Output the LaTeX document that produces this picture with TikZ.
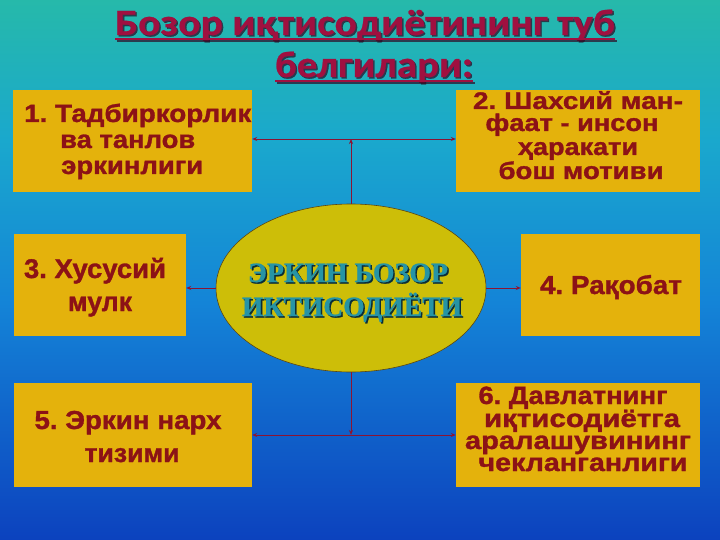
\documentclass[tikz,border=0pt]{standalone}
\usepackage{fontspec}
\usepackage{graphicx}
\setmainfont{Liberation Sans}
\newfontfamily\boxfont{Liberation Sans Bold}[FakeBold=1.2]
\newfontfamily\titlefont{Carlito Bold}[FakeBold=0.6]
\newfontfamily\ellfont{Liberation Serif Bold}[FakeBold=0.8]
\usetikzlibrary{arrows.meta,shapes.geometric}
\definecolor{ctop}{RGB}{38,185,170}
\definecolor{cmida}{RGB}{26,168,205}
\definecolor{cmidb}{RGB}{20,132,215}
\definecolor{cbot}{RGB}{12,66,190}
\definecolor{boxgold}{RGB}{228,178,12}
\definecolor{ellgold}{RGB}{205,190,8}
\definecolor{ellline}{RGB}{90,70,20}
\definecolor{boxred}{RGB}{140,18,22}
\definecolor{titlered}{RGB}{160,16,64}
\definecolor{titleshadow}{RGB}{45,10,35}
\definecolor{ellteal}{RGB}{38,148,165}
\definecolor{ellshadow}{RGB}{10,45,55}
\definecolor{linered}{RGB}{140,20,50}
\pgfdeclareverticalshading{bgshade}{100bp}{color(0bp)=(cbot); color(25bp)=(cbot); color(47bp)=(cmidb); color(62bp)=(cmida); color(75bp)=(ctop); color(100bp)=(ctop)}
\newcommand\wl[3]{\resizebox{#2pt}{\height}{\fontsize{#1pt}{#1pt}\selectfont\frenchspacing #3}}
\begin{document}
\begin{tikzpicture}[x=1pt,y=-1pt,
  gbox/.style={rectangle, fill=boxgold, draw=none, inner sep=0pt},
  btxt/.style={text=boxred, inner sep=0pt, font=\boxfont},
  ttxt/.style={text=titlered, inner sep=0pt, font=\titlefont},
  tshadow/.style={text=titleshadow, opacity=0.7, inner sep=0pt, font=\titlefont},
  etxt/.style={text=ellteal, inner sep=0pt, font=\ellfont},
  eshadow/.style={text=ellshadow, inner sep=0pt, font=\ellfont},
  conn/.style={draw=linered, line width=0.8pt, -{Stealth[length=5pt,width=4pt]}}]
\useasboundingbox (0,0) rectangle (720,540);
\shade[shading=bgshade] (0,0) rectangle (720,540);

% title
\node[tshadow, anchor=base] (t1s) at (366.5,36.5) {\wl{37}{500}{Бозор иқтисодиётининг туб}};
\node[ttxt, anchor=base] (t1) at (365,35) {\wl{37}{500}{Бозор иқтисодиётининг туб}};
\node[tshadow, anchor=base] (t2s) at (375.5,78.5) {\wl{37}{198}{белгилари:}};
\node[ttxt, anchor=base] (t2) at (374,77) {\wl{37}{198}{белгилари:}};
\draw[titleshadow, opacity=0.7, line width=2pt] (116.5,41) -- (616.5,41);
\draw[titlered, line width=2pt] (115,39.5) -- (615,39.5);
\draw[titleshadow, opacity=0.7, line width=2pt] (276.5,83) -- (474.5,83);
\draw[titlered, line width=2pt] (275,81.5) -- (473,81.5);

% boxes
\node[gbox, minimum width=239pt, minimum height=102pt] (b1) at (132.5,141) {};
\node[gbox, minimum width=244pt, minimum height=102pt] (b2) at (578,141) {};
\node[gbox, minimum width=172pt, minimum height=102pt] (b3) at (100,285) {};
\node[gbox, minimum width=179pt, minimum height=102pt] (b4) at (610.5,285) {};
\node[gbox, minimum width=238pt, minimum height=104pt] (b5) at (133,435) {};
\node[gbox, minimum width=244pt, minimum height=104pt] (b6) at (578,435) {};

% ellipse
\node[ellipse, fill=ellgold, draw=ellline, line width=0.6pt, minimum width=270pt, minimum height=168pt, inner sep=0pt] (ell) at (351,288) {};
\node[eshadow, anchor=base] (e1s) at (349.5,283.5) {\wl{28}{200}{ЭРКИН БОЗОР}};
\node[etxt, anchor=base] (e1) at (348,282) {\wl{28}{200}{ЭРКИН БОЗОР}};
\node[eshadow, anchor=base] (e2s) at (353.5,317.5) {\wl{28}{220}{ИКТИСОДИЁТИ}};
\node[etxt, anchor=base] (e2) at (352,316) {\wl{28}{220}{ИКТИСОДИЁТИ}};

% box texts
\node[btxt, anchor=base west] (l1a) at (24,122) {\wl{25}{227}{1. Тадбиркорлик}};
\node[btxt, anchor=base west] (l1b) at (60,148) {\wl{25}{135}{ва танлов}};
\node[btxt, anchor=base west] (l1c) at (61,174) {\wl{25}{142}{эркинлиги}};

\node[btxt, anchor=base] (l2a) at (578,109) {\wl{24}{210}{2. Шахсий ман-}};
\node[btxt, anchor=base] (l2b) at (572,131) {\wl{24}{173}{фаат - инсон}};
\node[btxt, anchor=base] (l2c) at (578,155) {\wl{24}{120}{ҳаракати}};
\node[btxt, anchor=base] (l2d) at (581,179) {\wl{24}{165}{бош мотиви}};

\node[btxt, anchor=base] (l3a) at (95,278) {\wl{27}{142}{3. Хусусий}};
\node[btxt, anchor=base] (l3b) at (100,311) {\wl{27}{64}{мулк}};

\node[btxt, anchor=base] (l4a) at (611,294) {\wl{26}{142}{4. Рақобат}};

\node[btxt, anchor=base] (l5a) at (128,429) {\wl{26}{187}{5. Эркин нарх}};
\node[btxt, anchor=base] (l5b) at (132,462) {\wl{26}{95}{тизими}};

\node[btxt, anchor=base] (l6a) at (573,404) {\wl{25}{189}{6. Давлатнинг}};
\node[btxt, anchor=base] (l6b) at (582,427) {\wl{25}{196}{иқтисодиётга}};
\node[btxt, anchor=base] (l6c) at (578,449) {\wl{25}{226}{аралашувининг}};
\node[btxt, anchor=base] (l6d) at (583,471) {\wl{25}{209}{чекланганлиги}};

% connectors
\coordinate (topj) at (351,139);
\coordinate (botj) at (351,435);
\draw[conn] (ell.north) -- (topj);
\draw[conn] (topj) -- (topj -| b1.east);
\draw[conn] (topj) -- (topj -| b2.west);
\draw[conn] (ell.west) -- (ell.west -| b3.east);
\draw[conn] (ell.east) -- (ell.east -| b4.west);
\draw[conn] (ell.south) -- (botj);
\draw[conn] (botj) -- (botj -| b5.east);
\draw[conn] (botj) -- (botj -| b6.west);
\end{tikzpicture}
\end{document}
